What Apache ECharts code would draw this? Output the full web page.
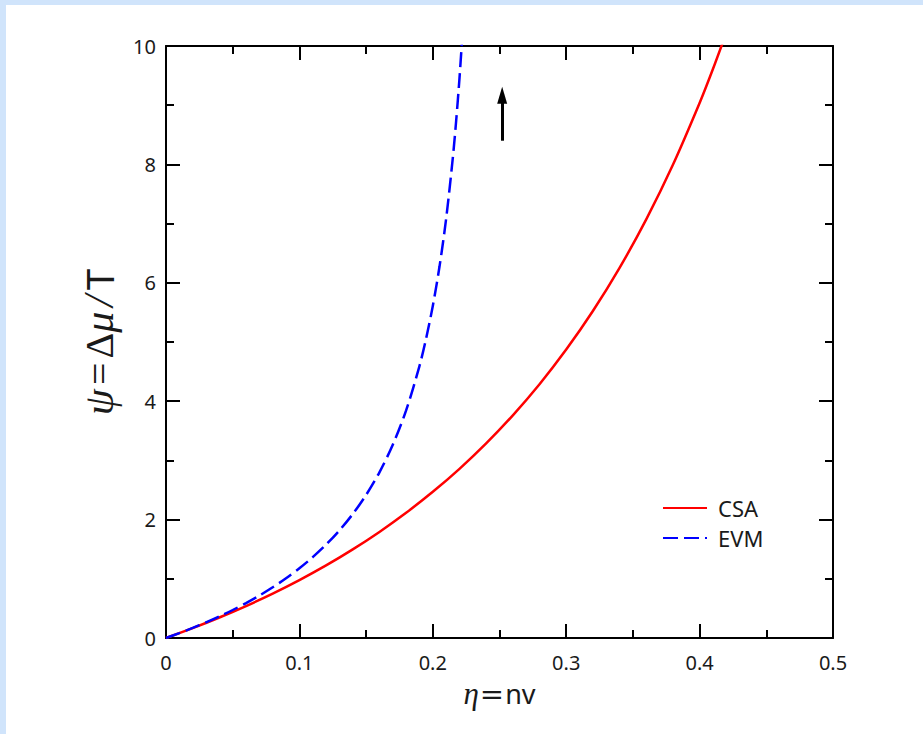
<!DOCTYPE html>
<html>
<head>
<meta charset="utf-8">
<script src="https://cdn.jsdelivr.net/npm/echarts@6/dist/echarts.min.js"></script>
<style>
html,body{margin:0;padding:0;background:#d0e4fb;}
#c{width:923px;height:734px;}
</style>
</head>
<body>
<div id="c"></div>
<script>
// Data
const csaEta = [0, 0.02, 0.04, 0.06, 0.08, 0.10, 0.12, 0.14, 0.16, 0.18, 0.20, 0.22, 0.24, 0.26, 0.28, 0.30, 0.32, 0.34, 0.36, 0.38, 0.40, 0.41, 0.42];
const csaPsi = [0, 0.166, 0.346, 0.540, 0.750, 0.978, 1.226, 1.497, 1.792, 2.115, 2.469, 2.858, 3.287, 3.762, 4.287, 4.872, 5.523, 6.252, 7.071, 7.993, 9.037, 9.611, 10.223];
const evmEta = [0, 0.01, 0.02, 0.03, 0.04, 0.05, 0.06, 0.07, 0.08, 0.09, 0.10, 0.11, 0.12, 0.13, 0.14, 0.15, 0.16, 0.17, 0.18, 0.19, 0.195, 0.20, 0.205, 0.21, 0.215, 0.2175, 0.22, 0.2225];
const evmPsi = [0, 0.083, 0.170, 0.264, 0.365, 0.473, 0.590, 0.717, 0.856, 1.009, 1.178, 1.366, 1.577, 1.817, 2.094, 2.416, 2.799, 3.264, 3.844, 4.594, 5.060, 5.609, 6.270, 7.083, 8.109, 8.733, 9.454, 10.298];
const seriesNames = ['CSA', 'EVM'];
const arrowX = 0.252;
const arrowY = [8.40, 9.10, 9.17];

const pair = (xs, ys) => xs.map((x, i) => [x, ys[i]]);
const txt = '#1a1a1a';
const lab = { color: txt, fontSize: 20, fontFamily: 'Noto Sans' };
const axLine = { onZero: false, show: true, lineStyle: { color: '#000', width: 2 } };
const tick = { show: true, inside: true, length: 14, lineStyle: { color: '#000', width: 2 } };
const minor = { show: true, splitNumber: 2, length: 8, lineStyle: { color: '#000', width: 2 } };
const richX = {
  a: { fontFamily: 'Liberation Serif', fontStyle: 'italic', fontSize: 31, color: txt },
  b: { fontFamily: 'DejaVu Sans', fontSize: 29, color: txt, padding: [0, 1] },
  c: { fontFamily: 'Noto Sans', fontSize: 27, color: txt }
};
const richY = {
  a: { fontFamily: 'Liberation Serif', fontStyle: 'italic', fontSize: 42, color: txt },
  b: { fontFamily: 'Liberation Serif', fontSize: 40, color: txt, padding: [0, 4] },
  d: { fontFamily: 'Liberation Serif', fontSize: 40, color: txt },
  e: { fontFamily: 'Liberation Serif', fontStyle: 'italic', fontSize: 42, color: txt, padding: [0, 5] },
  c: { fontFamily: 'Noto Sans', fontSize: 38, color: txt }
};

const chart = echarts.init(document.getElementById('c'), null, { renderer: 'svg' });
chart.setOption({
  backgroundColor: '#d0e4fb',
  animation: false,
  graphic: [{ type: 'rect', left: 6, top: 5, shape: { width: 917, height: 729 }, style: { fill: '#ffffff' }, z: -10 }],
  grid: { left: 166, top: 46, right: 90, bottom: 96 },
  legend: {
    left: 657, top: 492, orient: 'vertical', itemWidth: 44, itemHeight: 14, itemGap: 8,
    itemStyle: { opacity: 0 },
    textStyle: { color: txt, fontSize: 22, fontFamily: 'Noto Sans', padding: [0, 0, 0, 6] },
    data: seriesNames
  },
  xAxis: [{
    type: 'value', min: 0, max: 0.5, interval: 0.1,
    name: '{a|η}{b|=}{c|nv}', nameLocation: 'middle', nameGap: 40,
    nameTextStyle: { fontSize: 30, fontFamily: 'Liberation Serif', color: txt, rich: richX },
    axisLine: axLine, axisTick: tick, minorTick: minor,
    splitLine: { show: false },
    axisLabel: Object.assign({ margin: 14 }, lab)
  }, {
    type: 'value', position: 'top', min: 0, max: 0.5, interval: 0.1,
    axisLine: axLine, axisTick: tick, minorTick: minor,
    splitLine: { show: false }, axisLabel: { show: false }
  }],
  yAxis: [{
    type: 'value', min: 0, max: 10, interval: 2,
    name: '{a|ψ}{b|=}{d|Δ}{a|μ}{e|/}{c|T}', nameLocation: 'middle', nameGap: 46, nameRotate: 90,
    nameTextStyle: { fontSize: 40, fontFamily: 'Liberation Serif', color: txt, rich: richY },
    axisLine: axLine, axisTick: tick, minorTick: minor,
    splitLine: { show: false },
    axisLabel: Object.assign({ margin: 10 }, lab)
  }, {
    type: 'value', position: 'right', min: 0, max: 10, interval: 2,
    axisLine: axLine, axisTick: tick, minorTick: minor,
    splitLine: { show: false }, axisLabel: { show: false }
  }],
  series: [{
    name: seriesNames[0], type: 'line', data: pair(csaEta, csaPsi), smooth: 0.3,
    showSymbol: false, symbol: 'none', clip: true,
    itemStyle: { color: '#ff0000' },
    lineStyle: { color: '#ff0000', width: 2.5 },
    markLine: {
      silent: true, symbol: ['none', 'none'], label: { show: false },
      lineStyle: { color: '#000', width: 3, type: 'solid' },
      data: [[{ coord: [arrowX, arrowY[0]] }, { coord: [arrowX, arrowY[1]] }]]
    },
    markPoint: {
      silent: true, symbol: 'triangle', symbolSize: [10, 17], label: { show: false },
      itemStyle: { color: '#000' },
      data: [{ coord: [arrowX, arrowY[2]] }]
    }
  }, {
    name: seriesNames[1], type: 'line', data: pair(evmEta, evmPsi), smooth: 0.3,
    showSymbol: false, symbol: 'none', clip: true,
    itemStyle: { color: '#0000ff' },
    lineStyle: { color: '#0000ff', width: 2.5, type: [15, 6] }
  }]
});
</script>
</body>
</html>
